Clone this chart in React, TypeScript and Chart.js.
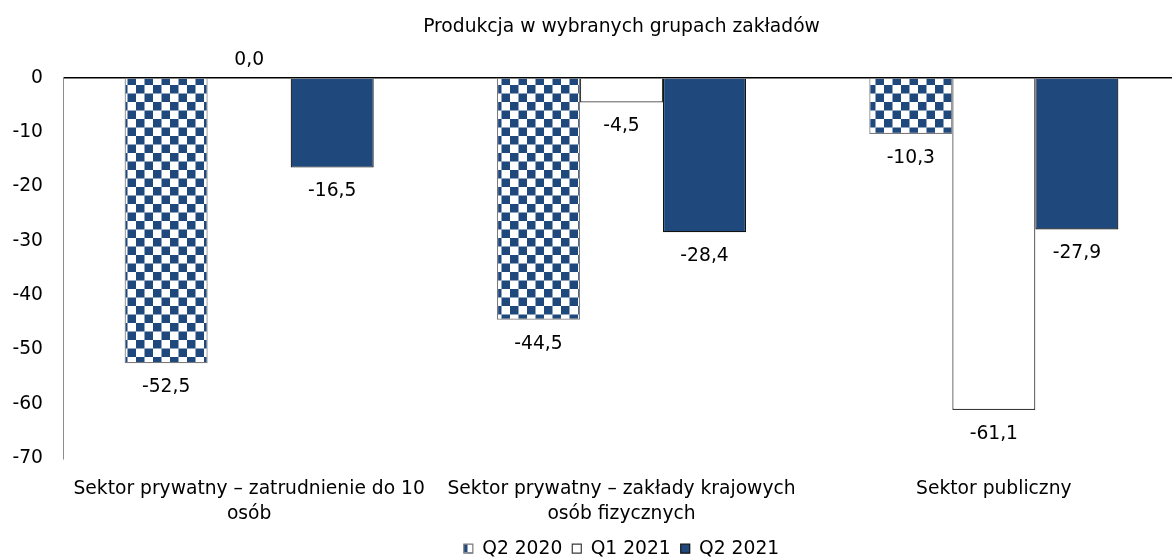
import React, { useEffect, useRef } from "react";
import { Chart, registerables } from "chart.js";

Chart.register(...registerables);

const categories: (string | string[])[] = [
  ["Sektor prywatny – zatrudnienie do 10", "osób"],
  ["Sektor prywatny – zakłady krajowych", "osób fizycznych"],
  "Sektor publiczny",
];
const seriesNames = ["Q2 2020", "Q1 2021", "Q2 2021"];
const q2_2020 = [-52.5, -44.5, -10.3];
const q1_2021 = [0.0, -4.5, -61.1];
const q2_2021 = [-16.5, -28.4, -27.9];
const yTicks = [0, -10, -20, -30, -40, -50, -60, -70];
const titleText = "Produkcja w wybranych grupach zakładów";

const FONT = "'DejaVu Sans', sans-serif";
const FS = 18.7;
const BLUE = "#1F497D";
const W = 1180;
const H = 560;

function makeChecker(): CanvasPattern | string {
  const c = document.createElement("canvas");
  c.width = 17;
  c.height = 17;
  const g = c.getContext("2d");
  if (!g) return BLUE;
  g.fillStyle = "#ffffff";
  g.fillRect(0, 0, 17, 17);
  g.fillStyle = BLUE;
  g.fillRect(0, 0, 8.5, 8.5);
  g.fillRect(8.5, 8.5, 8.5, 8.5);
  const p = g.createPattern(c, "repeat");
  return p || BLUE;
}

const dataLabels = {
  id: "dataLabels",
  afterDatasetsDraw(chart: any) {
    const ctx = chart.ctx;
    ctx.save();
    ctx.font = `${FS}px ${FONT}`;
    ctx.fillStyle = "#000";
    ctx.textAlign = "center";
    ctx.textBaseline = "middle";
    chart.data.datasets.forEach((ds: any, i: number) => {
      const meta = chart.getDatasetMeta(i);
      meta.data.forEach((el: any, j: number) => {
        const v = ds.data[j] as number;
        const txt = v.toFixed(1).replace(".", ",");
        const y = v < 0 ? el.y + 24 : el.y - 18;
        ctx.fillText(txt, el.x, y);
      });
    });
    ctx.restore();
  },
};

export default function App() {
  const ref = useRef<HTMLCanvasElement>(null);
  useEffect(() => {
    if (!ref.current) return;
    const checker = makeChecker();
    const chart = new Chart(ref.current, {
      type: "bar",
      data: {
        labels: categories,
        datasets: [
          {
            label: seriesNames[0],
            data: q2_2020,
            backgroundColor: checker as any,
            borderColor: "#7a7a7a",
            borderWidth: 1.2,
          },
          {
            label: seriesNames[1],
            data: q1_2021,
            backgroundColor: "#ffffff",
            borderColor: "#3a3a3a",
            borderWidth: 1.2,
          },
          {
            label: seriesNames[2],
            data: q2_2021,
            backgroundColor: BLUE,
            borderColor: "#111111",
            borderWidth: 1.2,
          },
        ],
      },
      options: {
        responsive: false,
        animation: false,
        layout: { padding: { left: 0, right: 0, top: 0, bottom: -8 } },
        datasets: {
          bar: { categoryPercentage: 0.669, barPercentage: 1 },
        },
        scales: {
          x: {
            grid: { display: false, drawTicks: false },
            border: { display: false },
            ticks: {
              color: "#000",
              font: { family: FONT, size: FS, lineHeight: 1.337 },
              padding: 18,
              maxRotation: 0,
              autoSkip: false,
            },
            afterFit: (s: any) => {
              s.height = 71;
            },
          },
          y: {
            min: -70,
            max: 0,
            afterBuildTicks: (s: any) => {
              s.ticks = yTicks.map((v) => ({ value: v }));
            },
            ticks: {
              color: "#000",
              font: { family: FONT, size: FS },
              padding: 20,
            },
            grid: {
              drawTicks: false,
              color: (c: any) => (c.tick && c.tick.value === 0 ? "#000" : "rgba(0,0,0,0)"),
              lineWidth: 1.5,
            },
            border: { display: true, color: "#8c8c8c", width: 1 },
            afterFit: (s: any) => {
              s.width = 63;
            },
          },
        },
        plugins: {
          title: {
            display: true,
            fullSize: false,
            text: titleText,
            color: "#000",
            font: { family: FONT, size: FS, weight: "normal" as any },
            padding: { top: 16, bottom: 39.5 },
          },
          legend: {
            position: "bottom",
            fullSize: false,
            labels: {
              color: "#000",
              font: { family: FONT, size: FS },
              boxWidth: 9,
              boxHeight: 9,
              padding: 10,
            },
          },
          tooltip: { enabled: false },
        },
      },
      plugins: [dataLabels],
    });
    return () => chart.destroy();
  }, []);
  return (
    <div style={{ position: "fixed", left: 0, top: 0, width: W, height: H, background: "#fff", overflow: "hidden" }}>
      <canvas ref={ref} width={W} height={H} style={{ display: "block" }} />
    </div>
  );
}
